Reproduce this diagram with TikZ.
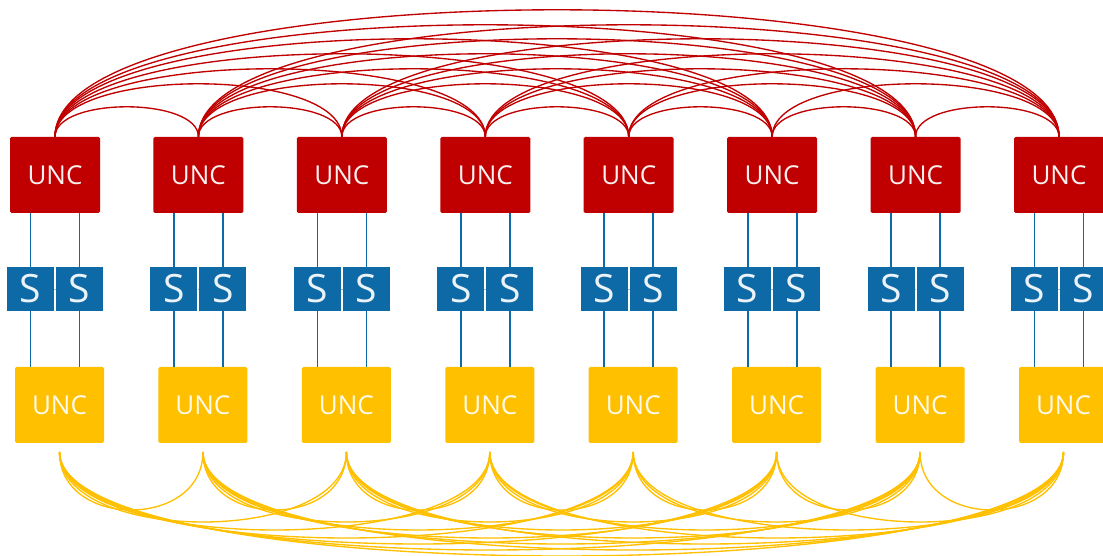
\documentclass[tikz,border=0pt]{standalone}
\usepackage{fontspec}
\setmainfont{Open Sans}
\definecolor{uncred}{RGB}{192,0,0}
\definecolor{sblue}{RGB}{14,106,166}
\definecolor{uncyel}{RGB}{255,192,0}
\begin{document}
\begin{tikzpicture}[x=1pt,y=1pt,
  redbox/.style={fill=uncred, rounded corners=1.5pt, minimum width=90pt, minimum height=76pt, inner sep=0pt, text=white!94!uncred, font=\fontsize{26}{26}\selectfont},
  yelbox/.style={fill=uncyel, rounded corners=1.5pt, minimum width=89pt, minimum height=76pt, inner sep=0pt, text=white!92!uncyel, font=\fontsize{26}{26}\selectfont},
  sbox/.style={fill=sblue, minimum width=47pt, minimum height=44pt, inner sep=0pt, text=white!92!sblue, font=\fontsize{39}{39}\selectfont},
  link/.style={draw=sblue, line width=1.7pt},
  slink/.style={draw=white!55!sblue, line width=0.8pt},
  redarc/.style={draw=uncred, line width=1.35pt},
  yelarc/.style={draw=uncyel, line width=1.35pt},
]
\useasboundingbox (0,0) rectangle (1103,556);
\fill[white] (0,0) rectangle (1103,556);
\def\redpk{{0,30,53,68,83,98,112,127}}
\def\yelpk{{0,58,70,78,86,92,98,104}}
\foreach \i in {1,...,8} {
  \pgfmathsetmacro\cx{55+143.43*(\i-1)}
  \node[redbox] (r\i) at (\cx,381) {UNC};
  \node[sbox] (sa\i) at (\cx-24.5,267) {S};
  \node[sbox] (sb\i) at (\cx+24.5,267) {S};
  \node[yelbox] (y\i) at (\cx+4.5,151) {UNC};
  \coordinate (ya\i) at (\cx+4.5,104);
  \draw[link] (sa\i.north) -- (sa\i.north |- r\i.south);
  \draw[link] (sb\i.north) -- (sb\i.north |- r\i.south);
  \draw[link] (sa\i.south) -- (sa\i.south |- y\i.north);
  \draw[link] (sb\i.south) -- (sb\i.south |- y\i.north);
  \draw[slink] (sa\i.east) -- (sb\i.west);
}
\foreach \i in {1,...,7} {
  \pgfmathtruncatemacro\ip{\i+1}
  \foreach \j in {\ip,...,8} {
    \pgfmathtruncatemacro\d{\j-\i}
    \pgfmathsetmacro\H{\redpk[\d]/0.75}
    \pgfmathsetmacro\D{\yelpk[\d]/0.75}
    \draw[redarc] (r\i.north) .. controls +(0,\H) and +(0,\H) .. (r\j.north);
    \draw[yelarc] (ya\i) .. controls +(0,-\D) and +(0,-\D) .. (ya\j);
  }
}
\end{tikzpicture}
\end{document}
